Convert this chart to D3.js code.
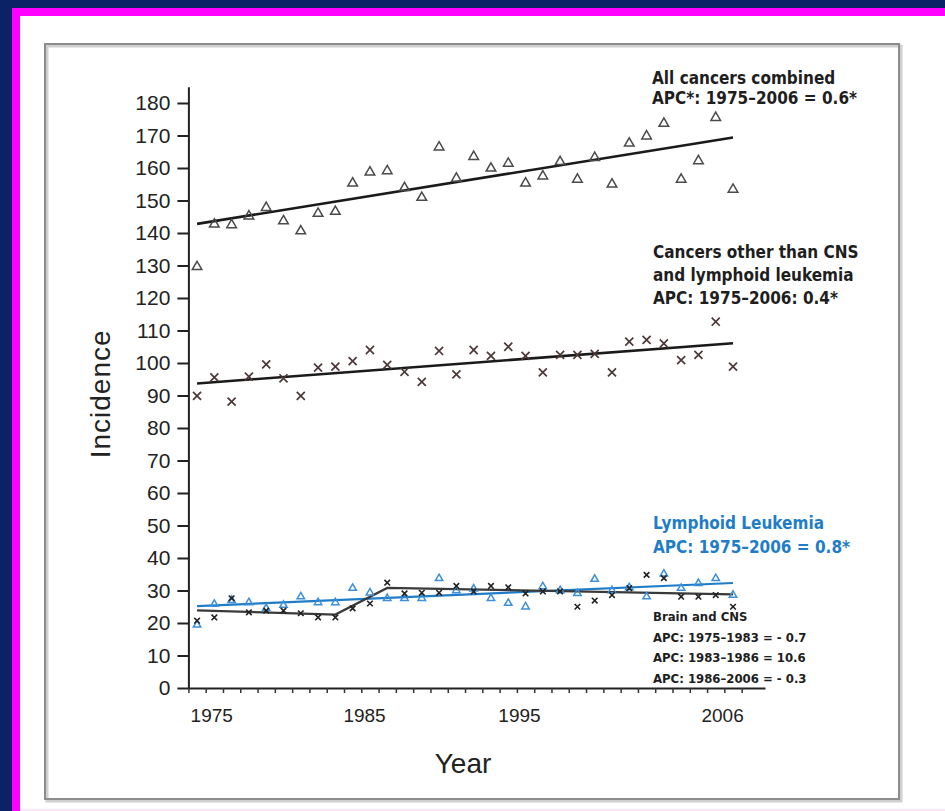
<!DOCTYPE html>
<html>
<head>
<meta charset="utf-8">
<script src="https://cdn.jsdelivr.net/npm/d3@7"></script>
<style>
  body { margin: 0; background: #0b2366; }
  svg { display: block; }
</style>
</head>
<body>
<div id="chart"></div>
<script>
// incidence per million
const years = [1975, 1976, 1977, 1978, 1979, 1980, 1981, 1982, 1983, 1984, 1985, 1986, 1987, 1988, 1989, 1990,
               1991, 1992, 1993, 1994, 1995, 1996, 1997, 1998, 1999, 2000, 2001, 2002, 2003, 2004, 2005, 2006]

const allCancers = [129.6, 142.7, 142.5, 145.2, 147.8, 143.7, 140.6, 146.0, 146.6, 155.3, 158.7, 159.1, 153.9, 150.9, 166.4, 156.8,
                    163.5, 159.9, 161.4, 155.3, 157.5, 161.9, 156.5, 163.2, 155.0, 167.6, 169.8, 173.7, 156.5, 162.2, 175.5, 153.4]
const otherCancers = [89.9, 95.6, 88.1, 95.8, 99.6, 95.3, 89.9, 98.6, 98.9, 100.6, 104.0, 99.4, 97.3, 94.2, 103.7, 96.5,
                      104.0, 102.2, 105.0, 102.2, 97.1, 102.5, 102.5, 102.8, 97.1, 106.6, 107.1, 106.0, 100.9, 102.5, 112.7, 98.9]
const lymphoidLeukemia = [19.4, 25.8, 27.0, 26.3, 24.5, 25.5, 28.1, 26.3, 26.3, 30.7, 29.3, 27.6, 27.6, 27.6, 33.7, 30.0,
                          30.5, 27.6, 26.1, 25.0, 31.2, 30.0, 29.1, 33.5, 30.0, 30.9, 28.1, 35.1, 30.7, 32.2, 33.7, 28.6]
const brainCns = [20.7, 21.7, 27.6, 23.3, 23.8, 23.8, 23.0, 21.7, 21.7, 24.5, 26.0, 32.4, 29.1, 29.3, 29.3, 31.4,
                  29.7, 31.4, 31.0, 29.1, 29.7, 29.7, 25.0, 26.9, 28.6, 30.7, 34.8, 33.8, 28.1, 28.1, 28.6, 25.0]

// fitted trends (joinpoint ends)
const allTrend = [[1975, 142.8], [2006, 169.4]]
const otherTrend = [[1975, 93.7], [2006, 106.1]]
const leukTrend = [[1975, 25.2], [2006, 32.3]]
const cnsTrend = [[1975, 23.9], [1983, 22.6], [1986, 30.8], [2006, 28.8]]

const yTicks = [0, 10, 20, 30, 40, 50, 60, 70, 80, 90, 100, 110, 120, 130, 140, 150, 160, 170, 180]
const xTickLabels = ["1975", "1985", "1995", "2006"]
const xTickLabelYears = [1975.82, 1984.66, 1993.62, 2005.37]

const allLabel = ["All cancers combined", "APC*: 1975\u20132006 = 0.6*"]
const otherLabel = ["Cancers other than CNS", "and lymphoid leukemia", "APC: 1975\u20132006: 0.4*"]
const leukLabel = ["Lymphoid Leukemia", "APC: 1975\u20132006 = 0.8*"]
const cnsLabel = ["Brain and CNS", "APC: 1975\u20131983 = - 0.7", "APC: 1983\u20131986 = 10.6", "APC: 1986\u20132006 = - 0.3"]

const W = 945, H = 811
const blue = "#1f7dc8"
const annoFont = "'Liberation Sans Narrow', 'DejaVu Sans Condensed', 'Liberation Sans', sans-serif"

const svg = d3.select("#chart").append("svg")
    .attr("width", W)
    .attr("height", H)

// slide frame
svg.append("rect").attr("width", W).attr("height", H).attr("fill", "#0b2366")
svg.append("rect").attr("x", 12).attr("y", 8).attr("width", W).attr("height", H).attr("fill", "#ff00ff")
svg.append("rect").attr("x", 20).attr("y", 16).attr("width", W).attr("height", 793).attr("fill", "#ffffff")
svg.append("rect").attr("x", 20).attr("y", 809).attr("width", W).attr("height", 2).attr("fill", "#fbe6fb")

// figure box with a soft shadow
svg.append("rect").attr("x", 47).attr("y", 46).attr("width", 854).attr("height", 755)
    .attr("fill", "none").attr("stroke", "#d0d0d0").attr("stroke-width", 3)
svg.append("rect").attr("x", 45).attr("y", 44).attr("width", 854).attr("height", 755)
    .attr("fill", "none").attr("stroke", "#8c8c8c").attr("stroke-width", 2)

const x = d3.scaleLinear().domain([1974.5, 2007.85]).range([188.4, 765])
const y = d3.scaleLinear().domain([0, 185]).range([688, 86.75])

// y axis
const yAxis = svg.append("g")
    .attr("transform", `translate(${x(1974.5)},0)`)
    .call(d3.axisLeft(y).tickValues(yTicks).tickSize(11).tickSizeOuter(0).tickPadding(7))
yAxis.select(".domain").attr("stroke", "#222").attr("stroke-width", 2)
yAxis.selectAll(".tick line").attr("stroke", "#222").attr("stroke-width", 2)
yAxis.selectAll(".tick text")
    .attr("font-family", "'Liberation Sans', Arial, sans-serif")
    .attr("font-size", 21).attr("fill", "#222")

// x axis: one tick per year boundary
const halfYears = years.concat([2007]).map(d => d - 0.5)
const xAxis = svg.append("g")
    .attr("transform", `translate(0,${y(0)})`)
    .call(d3.axisBottom(x).tickValues(halfYears).tickSize(5).tickSizeOuter(0).tickFormat(""))
xAxis.select(".domain").attr("stroke", "#222").attr("stroke-width", 2)
xAxis.selectAll(".tick line").attr("stroke", "#333").attr("stroke-width", 1.5)

const xLabels = svg.append("g")
    .attr("transform", `translate(0,${y(0)})`)
    .call(d3.axisBottom(x).tickValues(xTickLabelYears).tickSize(0).tickPadding(21)
        .tickFormat((d, i) => xTickLabels[i]))
xLabels.select(".domain").remove()
xLabels.selectAll(".tick text")
    .attr("font-family", "'Liberation Sans', Arial, sans-serif")
    .attr("font-size", 19).attr("fill", "#222")

// axis titles
svg.append("text")
    .attr("transform", `translate(110,${y(90.5)}) rotate(-90)`)
    .attr("text-anchor", "middle")
    .attr("font-family", "'Liberation Sans', Arial, sans-serif")
    .attr("font-size", 28).attr("letter-spacing", 1).attr("fill", "#222")
    .text("Incidence")
svg.append("text")
    .attr("x", 463).attr("y", 773)
    .attr("text-anchor", "middle")
    .attr("font-family", "'Liberation Sans', Arial, sans-serif")
    .attr("font-size", 28).attr("fill", "#222")
    .text("Year")

const line = d3.line().x(d => x(d[0])).y(d => y(d[1]))

function trend(pts, color, w) {
    svg.append("path")
        .attr("d", line(pts))
        .attr("fill", "none")
        .attr("stroke", color)
        .attr("stroke-width", w)
}

function markers(values, type, size, color, sw) {
    svg.append("g").selectAll("path")
        .data(values)
        .join("path")
        .attr("transform", (d, i) => `translate(${x(years[i])},${y(d)})`)
        .attr("d", d3.symbol(type, size))
        .attr("fill", "none")
        .attr("stroke", color)
        .attr("stroke-width", sw)
}

// top two series
trend(allTrend, "#1a1a1a", 2.6)
markers(allCancers, d3.symbolTriangle, 40, "#4a4a4a", 1.5)
trend(otherTrend, "#1a1a1a", 2.6)
markers(otherCancers, d3.symbolX, 44, "#4d3838", 1.7)

// bottom two series
trend(leukTrend, blue, 2.2)
trend(cnsTrend, "#3a3a3a", 2.2)
markers(lymphoidLeukemia, d3.symbolTriangle, 24, "#3c8fd8", 1.5)
markers(brainCns, d3.symbolX, 22, "#222", 1.6)

function annotate(lines, x0, y0, dy, size, color) {
    svg.append("text")
        .attr("font-family", annoFont)
        .attr("font-weight", "bold")
        .attr("font-size", size)
        .attr("fill", color)
        .selectAll("tspan")
        .data(lines)
        .join("tspan")
        .attr("x", x0)
        .attr("y", (d, i) => y0 + i * dy)
        .text(d => d)
}

annotate(allLabel, 652, 84, 20, 17, "#1e1e1e")
annotate(otherLabel, 653, 258, 23, 17, "#1e1e1e")
annotate(leukLabel, 653, 529, 24, 17, blue)
annotate(cnsLabel, 653, 621, 20.7, 13, "#1e1e1e")
</script>
</body>
</html>
